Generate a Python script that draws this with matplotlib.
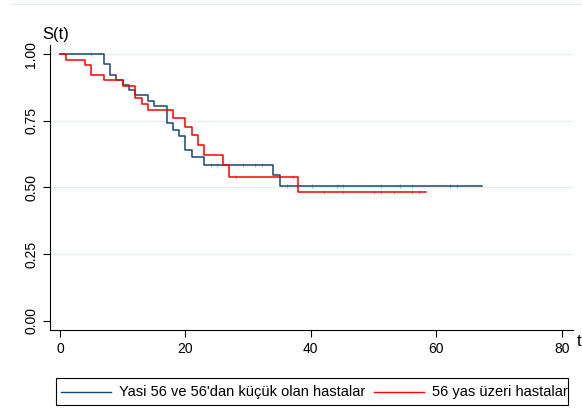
import matplotlib.pyplot as plt
from matplotlib.lines import Line2D
from matplotlib.patches import Rectangle

plt.rcParams['font.family'] = ['Liberation Sans', 'DejaVu Sans']

# Kaplan-Meier steps
blue_t = [0, 7, 8, 9, 10, 11, 12, 14, 15, 17, 18, 19, 20, 21, 23, 34, 35, 67.3]
blue_s = [1.0, 0.962, 0.923, 0.904, 0.885, 0.865, 0.846, 0.825, 0.804,
          0.740, 0.716, 0.692, 0.640, 0.615, 0.585, 0.546, 0.504, 0.504]
blue_cens = [5, 24, 25, 29.1, 31.1, 32.2, 36.2, 40.2, 44.1, 45.2, 51.2, 54.2, 56.2, 62.2, 63.3]

red_t = [0, 1, 4, 5, 7, 10, 12, 13, 14, 18, 20, 21, 22, 23, 26, 27, 38, 58.3]
red_s = [1.0, 0.979, 0.960, 0.921, 0.901, 0.881, 0.836, 0.814, 0.790,
         0.759, 0.728, 0.696, 0.660, 0.623, 0.583, 0.541, 0.482, 0.482]
red_cens = [28, 37.2, 42.1, 45.2, 50.1, 51.2, 53.3, 56.2, 57.3]

labels = ["Yasi 56 ve 56'dan küçük olan hastalar", "56 yas üzeri hastalar"]
navy = '#1a476f'
red = '#ff0000'


def surv_at(ts, ss, x):
    val = ss[0]
    for t, s in zip(ts, ss):
        if t <= x:
            val = s
    return val


W, H = 582, 419
fig = plt.figure(figsize=(W / 100, H / 100), dpi=100)
ax = fig.add_axes([50 / W, 1 - 330 / H, 523 / W, 285 / H])

for ts, ss, cens, c in [(blue_t, blue_s, blue_cens, navy), (red_t, red_s, red_cens, red)]:
    ax.step(ts, ss, where='post', color=c, lw=1.1, zorder=3)
    ax.plot(cens, [surv_at(ts, ss, x) for x in cens], ls='none', marker='|',
            ms=3, mew=0.5, color=c, alpha=0.5, zorder=3)

ax.set_xlim(-1.6, 81.8)
ax.set_ylim(-0.034, 1.034)
ax.set_xticks([0, 20, 40, 60, 80])
ax.set_yticks([0, 0.25, 0.5, 0.75, 1.0])
ax.set_yticklabels(['0.00', '0.25', '0.50', '0.75', '1.00'], rotation=90, va='center')
ax.tick_params(labelsize=10, length=5, width=0.8)
for v in [0.25, 0.5, 0.75, 1.0]:
    ax.axhline(v, color='#e6eeef', lw=1.0, zorder=1)
ax.spines['top'].set_visible(False)
ax.spines['right'].set_visible(False)

fig.text(42 / W, 1 - 39 / H, 'S(t)', fontsize=12, ha='left', va='baseline')
fig.text(577 / W, 1 - 346 / H, 't', fontsize=12, ha='left', va='baseline')

# faint outer border line at the top
fig.add_artist(Line2D([10 / W, 1], [1 - 4.5 / H, 1 - 4.5 / H], color='#e6eeef', lw=1.0))

# legend box drawn by hand so the entries sit side by side like the original
fig.add_artist(Rectangle((56 / W, 1 - 405 / H), 512 / W, 27 / H, transform=fig.transFigure,
                         fill=False, edgecolor='black', lw=0.8))
ly = 1 - 391.5 / H
for x0, x1, xt, c, lab in [(61, 111, 119, navy, labels[0]), (374, 424, 432, red, labels[1])]:
    fig.add_artist(Line2D([x0 / W, x1 / W], [ly, ly], color=c, lw=1.0))
    fig.text(xt / W, ly, lab, fontsize=10.5, ha='left', va='center')

fig.savefig('out.png', dpi=100)
